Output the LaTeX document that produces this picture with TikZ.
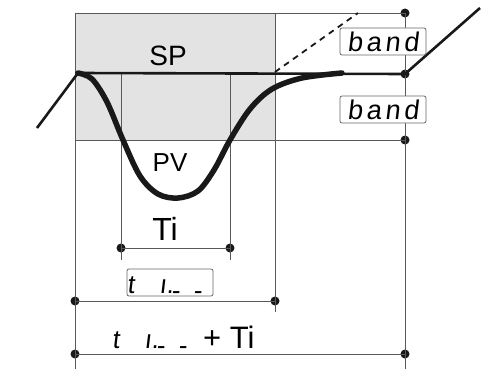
\documentclass[tikz,border=0pt]{standalone}
\usepackage{fontspec}
\setmainfont{Liberation Sans}
\newfontfamily\segfont{Liberation Sans}[FakeSlant=0.12]
\newfontfamily\segband{Liberation Sans}[FakeSlant=0.12,LetterSpace=14]
\newcommand{\segdash}{\raisebox{-6.5pt}{-}}
\newcommand{\segti}{\makebox[32pt][l]{t}\makebox[12pt][l]{ı.}\makebox[22pt][l]{\segdash}\segdash}
\begin{document}
\begin{tikzpicture}[x=1pt,y=-1pt,
  thin line/.style={draw=black!65,line width=0.8pt},
  thick line/.style={draw=black!90,line width=2.6pt},
  pv curve/.style={draw=black!90,line width=5.5pt,line cap=round,line join=round},
  dot/.style={circle,fill=black!90,inner sep=0pt,minimum size=9pt},
  segbox/.style={draw=black!60,line width=0.8pt,rounded corners=2pt,fill=white,inner sep=0pt,minimum width=86pt,minimum height=27pt},
  lbl/.style={inner sep=0pt,font=\fontsize{28}{30}\selectfont}]
\useasboundingbox (0,0) rectangle (495,369);
\fill[black!11] (75,13) rectangle (275,140);
% coordinates
\coordinate (TL) at (75,13);
\coordinate (BL) at (75,369);
\coordinate (GR) at (275,13);
\coordinate (GRb) at (275,312);
\coordinate (RB) at (405,369);
\coordinate (IL) at (121,74);
\coordinate (ILb) at (121,260);
\coordinate (IR) at (230,74);
\coordinate (IRb) at (230,260);
\coordinate (HL) at (75,140);
\coordinate (SPL) at (78,73);
\coordinate (DL) at (37,128);
\coordinate (DR) at (480,8);
\coordinate (DA) at (275,72);
\coordinate (DB) at (358,13);
\node[dot] (d1) at (405,13) {};
\node[dot] (d2) at (405,74) {};
\node[dot] (d3) at (405,140) {};
\node[dot] (d4) at (121,248) {};
\node[dot] (d5) at (230,248) {};
\node[dot] (d6) at (75,301) {};
\node[dot] (d7) at (275,301) {};
\node[dot] (d8) at (75,354) {};
\node[dot] (d9) at (405,354) {};
% thin lines
\draw[thin line] (TL) -- (BL);
\draw[thin line] (TL) -- (d1.center);
\draw[thin line] (d1.center) -- (RB);
\draw[thin line] (GR) -- (GRb);
\draw[thin line] (IL) -- (ILb);
\draw[thin line] (IR) -- (IRb);
\draw[thin line] (HL) -- (d3.center);
\draw[thin line] (d4.center) -- (d5.center);
\draw[thin line] (d6.center) -- (d7.center);
\draw[thin line] (d8.center) -- (d9.center);
% dashed
\draw[draw=black!90,line width=1.8pt,dash pattern=on 6pt off 5pt] (DA) -- (DB);
% SP line and diagonals
\draw[thick line,line join=round] (DL) -- (SPL) -- (d2.center) -- (DR);
% PV curve
\draw[pv curve] plot[smooth,tension=0.55] coordinates {(78,73) (92,79) (107,102) (123,140) (140,176) (158,194) (178,198) (198,191) (214,170) (230,140) (250,109) (272,89) (302,78) (342,73)};
% labels
\node[lbl] (sp) at (168,56) {SP};
\node[lbl,font=\fontsize{26}{28}\selectfont] (pv) at (170,163) {PV};
\node[lbl,font=\fontsize{32}{34}\selectfont] (ti) at (165,229) {Ti};
\node[segbox] (b1) at (383,41.5) {\segband\fontsize{27}{29}\selectfont band};
\node[segbox] (b2) at (383,109.5) {\segband\fontsize{27}{29}\selectfont band};
\node[segbox] (tbox) at (170,282.5) {};
\node[inner sep=0pt,anchor=base west] (ttext) at (127,293) {\segfont\fontsize{26}{28}\selectfont\segti};
\node[inner sep=0pt,anchor=base west] (tsum) at (112,348) {\segfont\fontsize{26}{28}\selectfont\segti};
\node[inner sep=0pt,anchor=base west,font=\fontsize{31}{33}\selectfont] (plus) at (203,348) {+ Ti};
\end{tikzpicture}
\end{document}
